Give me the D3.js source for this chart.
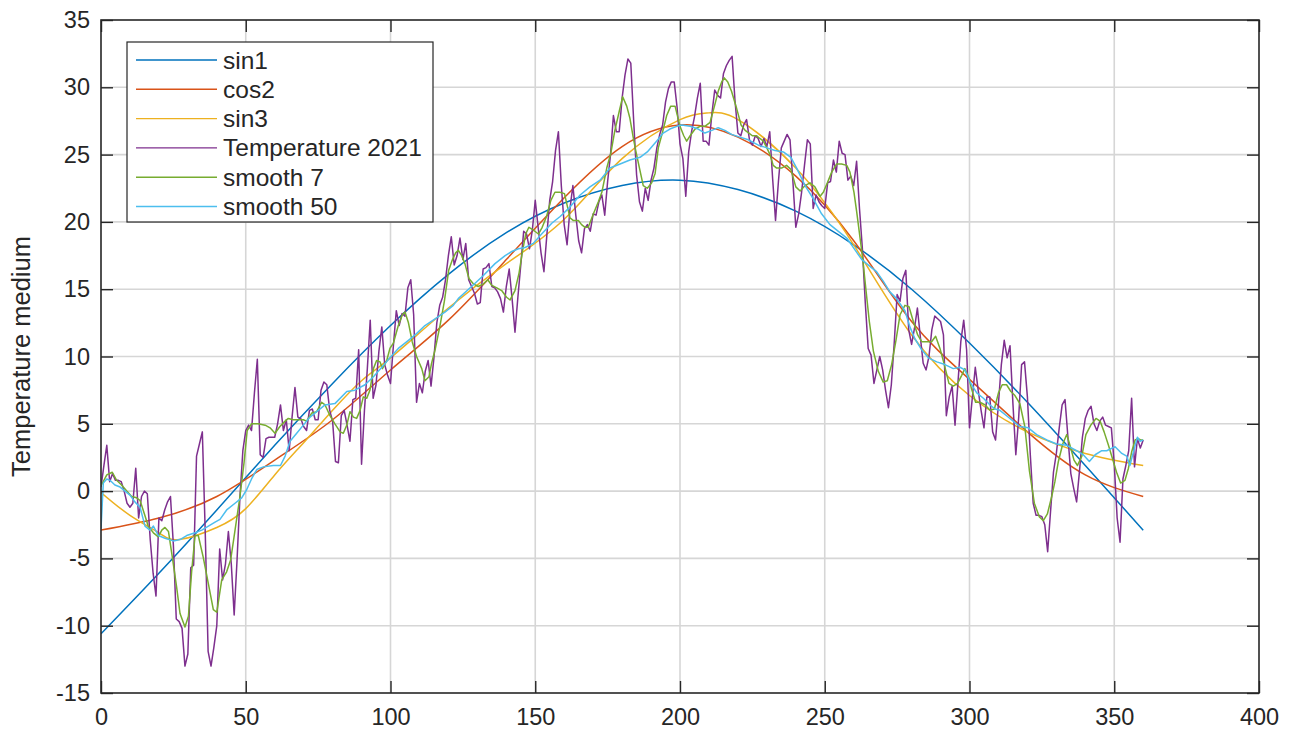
<!DOCTYPE html>
<html>
<head>
<meta charset="utf-8">
<script src="https://cdn.jsdelivr.net/npm/d3@7"></script>
<style>
  html, body { margin: 0; padding: 0; background: #ffffff; }
  svg { display: block; font-family: "Liberation Sans", Arial, Helvetica, sans-serif; }
</style>
</head>
<body>
<svg id="chart" width="1295" height="731"></svg>
<script>
// ---- data -------------------------------------------------------------
const xTicks = [0, 50, 100, 150, 200, 250, 300, 350, 400];
const yTicks = [-15, -10, -5, 0, 5, 10, 15, 20, 25, 30, 35];
const seriesNames = ["sin1", "cos2", "sin3", "Temperature 2021", "smooth 7", "smooth 50"];
const seriesColors = ["#0072BD", "#D95319", "#EDB120", "#7E2F8E", "#77AC30", "#4DBEEE"];

// daily mean temperature, day 0 .. 360
const temperature2021 = [
  0.3, 1.9, 3.4, 0.7, 1.3, 0.8, 0.8, 0.7, 0.0, -0.9,
  -1.2, -0.9, 1.7, -2.0, -0.4, 0.0, -0.2, -3.6, -6.1, -7.8,
  -2.0, -2.2, -1.4, -0.8, -0.4, -4.0, -9.5, -9.7, -10.2, -13.0,
  -12.1, -5.7, -5.5, 2.6, 3.5, 4.4, -3.0, -11.9, -13.0, -11.6,
  -10.0, -4.3, -6.6, -5.4, -3.0, -5.4, -9.2, -5.1, -0.4, 3.0,
  4.5, 4.9, 4.5, 7.3, 9.8, 2.7, 2.5, 3.9, 4.0, 4.0,
  4.0, 5.0, 6.4, 4.5, 5.3, 3.0, 5.5, 7.7, 5.5, 5.4,
  4.8, 4.5, 6.0, 6.1, 5.3, 5.3, 7.5, 8.1, 7.9, 6.0,
  5.2, 2.2, 2.1, 5.6, 6.0, 4.9, 3.7, 6.8, 6.9, 10.5,
  2.0, 6.0, 9.1, 12.7, 6.9, 7.9, 10.4, 12.2, 9.4, 8.6,
  8.0, 10.8, 13.4, 12.3, 13.2, 13.0, 15.1, 15.7, 13.1, 6.6,
  8.0, 7.3, 8.9, 9.7, 7.8, 9.9, 12.5, 13.8, 14.4, 15.7,
  17.5, 18.9, 16.8, 17.5, 18.8, 17.2, 18.4, 15.7, 15.2, 14.7,
  13.9, 14.0, 16.5, 16.6, 16.9, 15.2, 15.1, 14.8, 14.3, 13.3,
  15.2, 16.5, 14.3, 11.8, 14.4, 16.8, 19.3, 19.1, 18.0, 19.4,
  21.6, 19.6, 17.7, 16.3, 19.0, 21.6, 23.0, 25.3, 26.7, 22.7,
  19.8, 18.3, 21.0, 22.7, 20.5, 18.6, 17.7, 19.5, 19.8, 19.3,
  20.6, 20.5, 21.5, 22.0, 20.5, 23.0, 25.0, 27.9, 26.7, 26.7,
  29.2, 30.9, 32.1, 31.8, 27.5, 23.5, 21.5, 20.8, 22.5, 21.6,
  23.1, 24.0, 25.5, 26.5, 27.2, 28.9, 29.9, 30.4, 30.4, 28.5,
  25.8, 24.7, 21.9, 25.2, 26.7, 27.8, 29.2, 30.3, 26.0, 26.0,
  25.7, 28.0, 29.8, 29.4, 29.2, 31.0, 31.6, 32.0, 32.3, 29.0,
  26.6, 26.4, 27.2, 27.6, 26.1, 25.7, 26.4, 26.2, 25.6, 26.2,
  25.6, 26.7, 23.2, 20.1, 23.0, 25.5, 26.0, 26.5, 26.1, 23.0,
  19.6, 20.6, 22.2, 24.2, 26.1, 25.8, 21.0, 22.0, 21.5, 21.2,
  21.0, 22.9, 23.0, 24.6, 23.7, 26.0, 25.1, 25.0, 23.1, 23.4,
  22.7, 24.5, 21.0, 18.0, 14.0, 10.6, 10.1, 8.0, 9.0, 10.0,
  9.0, 7.5, 6.2, 7.9, 11.0, 14.6, 14.1, 15.8, 16.4, 12.0,
  10.9, 12.1, 13.6, 11.5, 9.5, 9.0, 10.0, 12.0, 13.0, 12.8,
  12.6, 11.6, 5.6, 7.0, 7.8, 4.9, 8.0, 11.1, 12.7, 10.5,
  4.7, 7.0, 9.2, 7.5, 6.0, 4.7, 7.0, 7.0, 4.4, 3.8,
  6.5, 9.4, 11.2, 9.9, 10.8, 6.5, 2.7, 5.5, 9.4, 9.6,
  7.0, 2.7, -0.9, -1.8, -1.8, -1.9, -2.5, -4.5, -1.5, 1.4,
  2.8, 4.7, 6.4, 6.8, 4.0, 1.3, 0.2, -0.8, 1.5, 4.0,
  5.4, 6.0, 6.3, 5.0, 4.5, 5.2, 5.5, 4.9, 4.8, 4.7,
  2.0, -2.0, -3.8, 0.9, 1.9, 3.0, 6.9, 1.8, 3.9, 3.2,
  3.8
];
const temperatureDays = d3.range(temperature2021.length);

// 7-day moving average
const smooth7Days = [
  0, 2, 3.9, 5.4, 7.1, 8.9, 10.6, 12.3, 13.5, 15, 16.3, 18.1, 19.8, 21, 22.1, 23.3, 24.7, 26.1, 27.3, 29,
  30.2, 31.3, 32.5, 33.6, 35.3, 37.1, 38.8, 40, 41.7, 43.4, 44.8, 46.3, 48, 49.4, 50.5, 52, 54.3, 56.7, 58.4, 60.1,
  61.8, 63.6, 64.7, 66.4, 68.2, 69.9, 71, 72.8, 74.5, 76.2, 77.4, 79.1, 80.8, 82.6, 83.7, 84.9, 86, 87.2, 88.3, 89.5,
  90.6, 91.8, 92.9, 94.1, 95.2, 96.4, 97.2, 98.7, 99.8, 101, 102.7, 104.1, 105, 106.2, 107.5, 109, 110.8, 111.9, 113.3, 114.2,
  115.4, 117.1, 118.6, 120.1, 121.4, 122.5, 123.4, 124.6, 125.7, 127.1, 128.6, 130.3, 132.1, 133.6, 134.9, 136.7, 138.4, 140.1, 141.3, 143,
  144.4, 145.5, 146.7, 147.8, 149.3, 151.1, 152.4, 153.9, 155.4, 156.8, 158.5, 160.1, 162, 163.2, 164.9, 166, 167.2, 168.3, 170.1, 171.8,
  173, 174.7, 176.1, 177.5, 179, 180.2, 181.6, 182.7, 183.9, 184.8, 186, 187.3, 188.7, 190.2, 191.4, 192.5, 194, 195.4, 196.8, 198.3,
  200, 201.3, 202.3, 203.5, 205.2, 206.9, 208.6, 210.4, 211.9, 213.2, 214.4, 215.3, 216.5, 217.8, 219.6, 221.1, 222.5, 223.8, 225, 226.5,
  227.6, 228.8, 230, 231.1, 232.2, 233.4, 235.1, 236.8, 238.3, 240, 241.5, 243.2, 244.9, 246.6, 248.4, 249.5, 250.9, 252.4, 254.1, 255.8,
  257.6, 258.7, 260.1, 261, 263.1, 264.3, 265.4, 266.8, 268.5, 270.2, 271.6, 273.1, 274.6, 276, 277.7, 279.1, 280.6, 282.1, 283.5, 285.2,
  286.9, 288.3, 289.8, 291.3, 292.9, 294.4, 295.9, 297.3, 298.4, 299.8, 300.7, 302.1, 303.6, 305.4, 307.1, 308.6, 310, 311.3, 312.8, 314.3,
  315.7, 317.4, 319.1, 320.7, 322.4, 324.1, 325.5, 326.9, 328.4, 329.5, 330.7, 332.2, 333.6, 334.7, 336.1, 337.3, 338.8, 340.2, 341.9, 343.7,
  345.1, 346.5, 348, 349.4, 350.8, 352.2, 353.7, 354.9, 356, 357.2, 358.3, 359.1, 360
];
const smooth7Values = [
  0.4, 1.2, 1.4, 0.8, 0.45, 0, -0.4, -0.5, -0.7, -1.7, -2.6, -3.1, -3.4, -2.9, -2.7, -3.0, -5.0, -7.1, -9.1, -10.1,
  -9.3, -6.0, -3.3, -3.3, -4.9, -6.9, -8.8, -9.0, -6.6, -6.0, -5.1, -2.9, -0.4, 2.1, 4.5, 5.0, 5.0, 4.9, 4.7, 4.3,
  4.8, 5.2, 5.4, 5.3, 5.3, 5.3, 5.2, 5.8, 5.9, 6.6, 6.4, 5.6, 5.0, 4.4, 4.3, 4.9, 5.9, 5.5, 5.4, 6.0,
  7.0, 6.9, 7.5, 9.1, 9.7, 9.6, 9.1, 9.7, 10.6, 11.0, 12.3, 13.1, 13.3, 12.5, 11.1, 10.0, 9.1, 8.2, 8.5, 9.5,
  10.5, 12.3, 14.1, 16.4, 17.2, 17.7, 17.9, 17.5, 16.9, 15.8, 15.4, 15.2, 15.4, 15.7, 15.3, 15.1, 14.9, 14.4, 14.2, 14.9,
  16.2, 17.7, 19.1, 19.6, 19.4, 19.1, 19.6, 20.4, 21.6, 22.2, 22.2, 22.1, 20.3, 20.1, 20.1, 19.8, 19.6, 19.6, 20.6, 21.5,
  22.2, 24.0, 25.1, 26.8, 28.2, 29.3, 28.6, 27.7, 26.2, 25.2, 24.0, 22.7, 22.5, 22.9, 23.6, 25.5, 26.7, 27.9, 28.6, 28.6,
  27.1, 26.4, 26.0, 26.4, 26.9, 27.1, 27.1, 27.4, 28.6, 29.7, 30.4, 30.7, 30.4, 29.7, 28.4, 27.2, 26.8, 26.6, 26.4, 26.4,
  26.2, 26.0, 25.5, 25.0, 24.2, 24.0, 24.0, 24.2, 23.9, 22.6, 22.3, 22.7, 22.9, 22.6, 21.9, 22.2, 22.9, 23.7, 24.3, 24.3,
  24.2, 23.7, 22.2, 20.8, 17.3, 14.8, 12.6, 10.4, 8.9, 8.1, 8.2, 9.4, 11.2, 13.1, 13.8, 13.7, 12.6, 11.6, 11.1, 11.1,
  11.1, 11.5, 10.6, 9.4, 8.0, 7.8, 8.0, 8.6, 9.1, 8.4, 7.6, 6.6, 6.6, 6.4, 6.0, 6.1, 7.3, 7.9, 7.9, 7.4,
  7.1, 6.5, 4.8, 1.5, -0.9, -1.9, -2.2, -1.7, -0.4, 0.7, 2.2, 3.5, 4.2, 3.4, 2.3, 1.9, 2.6, 4.2, 4.9, 5.4,
  5.2, 4.4, 3.4, 2.4, 1.4, 0.6, 0.8, 1.7, 2.9, 3.8, 3.9, 3.8, 3.8
];

// 50-day moving average
const smooth50Days = [
  0, 0.8, 2, 3.1, 4.8, 6.6, 8.3, 10, 11.7, 13.5, 15.2, 16.9, 18.1, 19.8, 22.1, 25, 27.3, 29.6, 32.5, 34.8,
  37.1, 39.4, 41.1, 43.4, 46.3, 48.6, 50.3, 52, 53.8, 56.1, 59.5, 62, 63.6, 65.3, 67.6, 69.9, 72.2, 74.5, 77.4, 80.8,
  84.9, 87.7, 91.2, 94.1, 97, 99.8, 102.7, 106.2, 109, 111.9, 115.4, 118.8, 121.7, 123.4, 128, 132, 136.1, 139.6, 141.9, 144.2,
  146.5, 149.3, 152.2, 155.7, 158.6, 162, 165.5, 168.9, 172.4, 175.8, 179.3, 182.7, 186.2, 188.7, 191.9, 194.2, 196.5, 198.9, 200.6, 203.5,
  206.3, 208.6, 211, 213.2, 215.5, 217.8, 220.7, 223.6, 227.1, 230, 232.8, 235.7, 238.3, 240.3, 243.2, 246.1, 248.9, 251.8, 254.7, 257.6,
  260.5, 262.8, 265.6, 267.9, 270.2, 272.5, 274.8, 277.7, 279.4, 281.2, 283.5, 285.8, 288.7, 291.5, 294.4, 296.7, 298.4, 300.2, 302.5, 304.8,
  307.1, 308.8, 310.5, 312.8, 315.1, 317.4, 320.3, 323.2, 326.7, 330.1, 333.6, 337, 339.3, 341.4, 343.4, 345.7, 347.4, 350.3, 352.6, 354.3,
  355.4, 356.6, 358, 358.9, 360
];
const smooth50Values = [
  -2.8, 0.6, 0.9, 0.8, 0.45, 0.3, 0, -0.3, -0.8, -1.2, -2.6, -2.9, -2.6, -3.3, -3.5, -3.7, -3.6, -3.3, -3.1, -2.9,
  -2.6, -2.3, -2.1, -1.4, -0.9, -0.5, 0.1, 0.9, 1.6, 1.8, 1.9, 1.9, 2.6, 3.7, 4.3, 4.9, 5.5, 5.9, 6.4, 6.5,
  7.4, 7.5, 7.9, 8.5, 9.2, 9.9, 10.6, 11.2, 11.7, 12.3, 12.8, 13.3, 13.8, 14.3, 15.2, 16.0, 16.9, 17.5, 17.8, 18.0,
  18.1, 18.4, 19.1, 19.9, 20.4, 21.1, 22.0, 22.6, 23.1, 24.0, 24.3, 24.6, 24.8, 25.2, 26.0, 26.6, 26.9, 27.1, 27.2, 27.1,
  26.9, 26.6, 26.8, 27.0, 26.8, 26.5, 26.3, 26.1, 25.7, 25.5, 25.3, 25.2, 24.8, 24.0, 22.7, 21.7, 20.6, 19.8, 19.3, 18.8,
  17.9, 17.2, 16.7, 16.3, 15.6, 14.8, 14.3, 13.4, 12.2, 11.3, 10.5, 9.9, 9.6, 9.4, 9.1, 9.2, 9.0, 8.1, 7.3, 6.9,
  6.4, 6.1, 6.0, 5.6, 5.2, 4.8, 4.7, 4.2, 3.8, 3.5, 3.4, 3.0, 2.7, 2.2, 2.7, 3.0, 3.0, 3.3, 2.8, 2.6,
  1.9, 2.9, 4.0, 3.7, 3.8
];

// fitted curves, sampled along the year
const sin1Days = [0, 20, 40, 60, 80, 100, 120, 140, 160, 180, 200, 220, 240, 260, 280, 300, 320, 340, 360];
const sin1Values = [-10.6, -6.1, -1.4, 3.4, 8.0, 12.3, 16.1, 19.2, 21.4, 22.7, 23.1, 22.4, 20.8, 18.3, 15.0, 11.0, 6.6, 1.9, -2.9];

const cos2Days = [0, 20, 40, 60, 80, 100, 120, 140, 160, 180, 200, 220, 240, 260, 280, 300, 320, 340, 360];
const cos2Values = [-2.9, -2.0, -0.4, 2.3, 5.3, 9.0, 12.7, 17.2, 21.8, 25.6, 27.2, 26.3, 23.4, 18.6, 12.6, 8.3, 4.4, 1.2, -0.4];

const sin3Days = [0, 10, 20, 27, 40, 50, 60, 70, 80, 90, 100, 120, 140, 160, 180, 200, 210, 220, 240, 260, 280, 300, 320, 340, 360];
const sin3Values = [-0.1, -1.8, -3.1, -3.6, -2.7, -1.3, 1.2, 3.6, 6.0, 8.2, 9.9, 13.6, 16.9, 20.2, 24.7, 27.6, 28.1, 27.6, 24.0, 18.3, 11.6, 7.1, 4.4, 2.8, 1.9];

// ---- layout -----------------------------------------------------------
const W = 1295, H = 731;
const plot = { left: 101, top: 20, right: 1259, bottom: 693 };
const axisColor = "#262626";
const gridColor = "#d6d6d6";

const svg = d3.select("#chart");
svg.append("rect").attr("width", W).attr("height", H).attr("fill", "#ffffff");

const x = d3.scaleLinear().domain([0, 400]).range([plot.left, plot.right]);
const y = d3.scaleLinear().domain([-15, 35]).range([plot.bottom, plot.top]);

// grid
const grid = svg.append("g");
grid.selectAll("line.gx").data(xTicks.slice(1, -1)).join("line")
  .attr("x1", d => x(d)).attr("x2", d => x(d))
  .attr("y1", plot.top).attr("y2", plot.bottom)
  .attr("stroke", gridColor).attr("stroke-width", 1.6);
grid.selectAll("line.gy").data(yTicks.slice(1, -1)).join("line")
  .attr("y1", d => y(d)).attr("y2", d => y(d))
  .attr("x1", plot.left).attr("x2", plot.right)
  .attr("stroke", gridColor).attr("stroke-width", 1.6);

// series
svg.append("clipPath").attr("id", "plotClip")
  .append("rect").attr("x", plot.left).attr("y", plot.top)
  .attr("width", plot.right - plot.left).attr("height", plot.bottom - plot.top);

const lines = svg.append("g").attr("clip-path", "url(#plotClip)");
const smoothLine = d3.line().x(d => x(d[0])).y(d => y(d[1])).curve(d3.curveNatural);
const rawLine = d3.line().x(d => x(d[0])).y(d => y(d[1]));

const seriesData = [
  { pts: d3.zip(sin1Days, sin1Values), gen: smoothLine },
  { pts: d3.zip(cos2Days, cos2Values), gen: smoothLine },
  { pts: d3.zip(sin3Days, sin3Values), gen: smoothLine },
  { pts: d3.zip(temperatureDays, temperature2021), gen: rawLine },
  { pts: d3.zip(smooth7Days, smooth7Values), gen: rawLine },
  { pts: d3.zip(smooth50Days, smooth50Values), gen: rawLine }
];
seriesData.forEach((s, i) => {
  lines.append("path")
    .attr("d", s.gen(s.pts))
    .attr("fill", "none")
    .attr("stroke", seriesColors[i])
    .attr("stroke-width", 1.5)
    .attr("stroke-linejoin", "round");
});

// axes with inward ticks on all four sides
const tickLen = 12;
const fontTick = 23.5;

const gB = svg.append("g").attr("transform", `translate(0,${plot.bottom})`)
  .call(d3.axisBottom(x).tickValues(xTicks).tickSize(-tickLen).tickPadding(15).tickFormat(d3.format("d")));
const gT = svg.append("g").attr("transform", `translate(0,${plot.top})`)
  .call(d3.axisTop(x).tickValues(xTicks).tickSize(-tickLen).tickFormat(""));
const gL = svg.append("g").attr("transform", `translate(${plot.left},0)`)
  .call(d3.axisLeft(y).tickValues(yTicks).tickSize(-tickLen).tickPadding(11).tickFormat(d3.format("d")));
const gR = svg.append("g").attr("transform", `translate(${plot.right},0)`)
  .call(d3.axisRight(y).tickValues(yTicks).tickSize(-tickLen).tickFormat(""));

[gB, gT, gL, gR].forEach(g => {
  g.select(".domain").remove();
  g.selectAll(".tick line").attr("stroke", axisColor).attr("stroke-width", 1.4);
  g.selectAll(".tick text")
    .attr("fill", axisColor)
    .style("font-family", "'Liberation Sans', Arial, Helvetica, sans-serif")
    .style("font-size", fontTick + "px");
});
gL.selectAll(".tick text").text(d => d < 0 ? "-" + Math.abs(d) : String(d));

// frame
svg.append("rect")
  .attr("x", plot.left).attr("y", plot.top)
  .attr("width", plot.right - plot.left).attr("height", plot.bottom - plot.top)
  .attr("fill", "none").attr("stroke", axisColor).attr("stroke-width", 1.6);

// y label
svg.append("text")
  .attr("transform", `translate(30,${(plot.top + plot.bottom) / 2}) rotate(-90)`)
  .attr("text-anchor", "middle")
  .attr("fill", axisColor)
  .style("font-size", "25.5px")
  .text("Temperature medium");

// legend
const legend = svg.append("g");
const lg = { x: 127, y: 42, w: 306, h: 180, row: 29.3, first: 60 };
legend.append("rect")
  .attr("x", lg.x).attr("y", lg.y).attr("width", lg.w).attr("height", lg.h)
  .attr("fill", "#ffffff").attr("stroke", axisColor).attr("stroke-width", 1.2);
seriesNames.forEach((name, i) => {
  const cy = lg.first + i * lg.row;
  legend.append("line")
    .attr("x1", lg.x + 9).attr("x2", lg.x + 90)
    .attr("y1", cy).attr("y2", cy)
    .attr("stroke", seriesColors[i]).attr("stroke-width", 1.4);
  legend.append("text")
    .attr("x", lg.x + 96).attr("y", cy).attr("dy", "0.35em")
    .attr("fill", axisColor)
    .style("font-size", "24.5px")
    .text(name);
});
</script>
</body>
</html>
